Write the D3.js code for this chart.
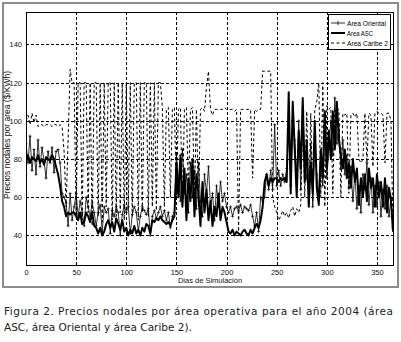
<!DOCTYPE html>
<html>
<head>
<meta charset="utf-8">
<script src="https://cdn.jsdelivr.net/npm/d3@7"></script>
<style>
  body { margin: 0; background: #fff; }
  svg { display: block; }
</style>
</head>
<body>
<svg id="chart" width="401" height="342"></svg>
<script>
// daily values sampled every 2 days (day 0 .. 366)
const days = d3.range(0, 367, 2);

const caribe2 = [
  100,103,98,104,99,103,97,98,98,97,
  98,98,98,97,98,98,97,98,97,84,
  55,90,127,120,120,50,120,120,48,120,
  120,52,120,45,120,120,50,120,47,120,
  55,120,120,48,120,50,120,52,120,48,
  120,55,120,50,120,120,48,120,52,120,
  120,50,120,55,120,53,120,120,107,55,
  106,107,60,106,107,60,106,107,55,106,
  107,62,106,107,60,106,55,106,107,105,
  118,126,106,103,106,106,106,106,106,107,
  106,106,106,106,105,106,42,106,106,106,
  106,106,106,70,106,105,106,106,126,126,
  126,126,126,60,55,52,48,50,53,50,
  52,49,53,55,50,54,52,56,105,60,
  105,55,104,58,106,110,120,60,120,55,
  108,106,107,62,106,105,106,60,104,103,
  104,62,103,104,102,104,80,78,80,104,
  78,104,103,76,104,105,104,104,103,78,
  104,104,100,42
];

const asc = [
  80,82,78,81,80,79,82,78,80,77,
  81,80,79,82,80,76,72,66,58,55,
  50,52,51,52,52,50,48,52,46,47,
  52,50,47,52,45,44,41,44,40,42,
  46,48,44,47,42,49,46,43,48,42,
  44,40,43,41,45,41,43,40,44,42,
  46,45,41,48,47,49,48,50,48,47,
  46,47,45,48,50,78,60,82,55,75,
  48,70,58,80,50,72,62,45,68,52,
  64,48,58,45,55,50,62,48,55,52,
  47,42,41,43,40,42,41,40,42,43,
  41,40,43,41,44,46,44,48,55,68,
  72,66,70,68,70,70,68,70,69,70,
  68,115,62,110,85,60,95,75,112,68,
  90,55,78,62,100,65,56,85,70,105,
  75,95,80,105,85,110,90,82,75,85,
  70,78,65,80,68,75,56,70,60,72,
  58,75,65,70,55,72,60,68,55,70,
  52,65,58,42
];

const oriental = [
  88,78,92,74,85,72,90,76,86,79,
  70,84,78,86,73,84,85,78,62,60,
  57,45,62,48,55,62,50,58,52,45,
  60,55,50,57,52,45,52,56,42,55,
  52,54,41,53,50,55,52,40,51,56,
  52,55,41,51,55,52,42,50,55,53,
  51,54,40,50,53,49,52,55,50,53,
  48,52,44,50,52,82,70,58,85,62,
  72,52,78,60,74,54,78,58,50,72,
  62,76,55,62,48,66,55,68,58,62,
  55,52,55,50,54,55,53,56,52,55,
  54,53,56,50,45,52,42,60,58,60,
  72,64,74,64,98,66,74,66,72,68,
  75,95,66,100,90,70,100,64,105,80,
  70,62,88,55,92,72,60,80,66,95,
  70,85,100,82,112,88,98,75,90,72,
  82,65,76,58,72,54,66,52,72,64,
  78,56,70,52,66,55,68,50,64,54,
  66,50,60,44
];

const xTicks = [0, 50, 100, 150, 200, 250, 300, 350];
const yTicks = [40, 60, 80, 100, 120, 140];
const legendNames = ["Area Oriental", "Area ASC", "Area Caribe 2"];

const svg = d3.select("#chart");
const font = "'Liberation Sans', Arial, sans-serif";

// figure frame
svg.append("rect")
  .attr("x", 3).attr("y", 3).attr("width", 395).attr("height", 284)
  .attr("fill", "#fff").attr("stroke", "#8c8c8c").attr("stroke-width", 2);

const L = 26, R = 394, T = 12, B = 266;
const x = d3.scaleLinear().domain([0, 367]).range([L, R]);
const y = d3.scaleLinear().domain([24, 157]).range([B, T]);

// grid
const grid = svg.append("g").attr("stroke", "#000").attr("stroke-width", 1)
  .attr("stroke-dasharray", "3,2");
grid.selectAll(".gx").data(xTicks.slice(1)).join("line")
  .attr("x1", d => Math.round(x(d)) + 0.5).attr("x2", d => Math.round(x(d)) + 0.5)
  .attr("y1", T).attr("y2", B);
grid.selectAll(".gy").data(yTicks).join("line")
  .attr("y1", d => Math.round(y(d)) + 0.5).attr("y2", d => Math.round(y(d)) + 0.5)
  .attr("x1", L).attr("x2", R);

// series
svg.append("clipPath").attr("id", "clip")
  .append("rect").attr("x", L).attr("y", T).attr("width", R - L).attr("height", B - T);
const plot = svg.append("g").attr("clip-path", "url(#clip)");

const line = d3.line().x((d, i) => x(days[i])).y(d => y(d));

plot.append("path").datum(oriental)
  .attr("fill", "none").attr("stroke", "#000").attr("stroke-width", 0.8)
  .attr("d", line);
plot.append("g").selectAll("path").data(oriental).join("path")
  .attr("d", (d, i) => {
    const cx = x(days[i]), cy = y(d), s = 1.6;
    return `M${cx - s},${cy}H${cx + s}M${cx},${cy - s}V${cy + s}`;
  })
  .attr("stroke", "#000").attr("stroke-width", 0.6);

plot.append("path").datum(asc)
  .attr("fill", "none").attr("stroke", "#000").attr("stroke-width", 2)
  .attr("stroke-linejoin", "round")
  .attr("d", line);

plot.append("path").datum(caribe2)
  .attr("fill", "none").attr("stroke", "#000").attr("stroke-width", 1)
  .attr("stroke-dasharray", "3,2.5")
  .attr("d", line);

// axes box
svg.append("rect")
  .attr("x", L + 0.5).attr("y", T + 0.5).attr("width", R - L - 1).attr("height", B - T - 1)
  .attr("fill", "none").attr("stroke", "#000");

const gx = svg.append("g").attr("transform", `translate(0,${B})`)
  .call(d3.axisBottom(x).tickValues(xTicks).tickSize(0).tickPadding(4));
const gy = svg.append("g").attr("transform", `translate(${L},0)`)
  .call(d3.axisLeft(y).tickValues(yTicks).tickSize(0).tickPadding(4));
[gx, gy].forEach(g => {
  g.select(".domain").remove();
  g.selectAll("text").attr("font-family", font).attr("font-size", 7.5).attr("fill", "#111");
});

svg.append("text")
  .attr("x", (L + R) / 2).attr("y", 283)
  .attr("text-anchor", "middle")
  .attr("font-family", font).attr("font-size", 7.5).attr("fill", "#111")
  .text("Dias de Simulación");

svg.append("text")
  .attr("transform", `translate(10,${(T + B) / 2 - 4}) rotate(-90)`)
  .attr("text-anchor", "middle")
  .attr("font-family", font).attr("font-size", 8.5).attr("fill", "#111")
  .text("Precios nodales por area ($/KWh)");

// legend
const lg = svg.append("g");
lg.append("rect").attr("x", 328.5).attr("y", 14.5).attr("width", 62).attr("height", 35)
  .attr("fill", "#fff").attr("stroke", "#000");
const styles = [
  { w: 0.8, dash: null, mark: true, len: 39 },
  { w: 2, dash: null, mark: false, len: 26 },
  { w: 1, dash: "3,2.5", mark: false, len: 41 }
];
legendNames.forEach((name, i) => {
  const ly = 23 + i * 10;
  lg.append("line").attr("x1", 331).attr("x2", 345).attr("y1", ly).attr("y2", ly)
    .attr("stroke", "#000").attr("stroke-width", styles[i].w)
    .attr("stroke-dasharray", styles[i].dash);
  if (styles[i].mark) {
    lg.append("line").attr("x1", 338).attr("x2", 338).attr("y1", ly - 2).attr("y2", ly + 2)
      .attr("stroke", "#000").attr("stroke-width", 0.8);
  }
  lg.append("text").attr("x", 347).attr("y", ly + 2.5)
    .attr("font-family", font).attr("font-size", 6.5).attr("fill", "#000")
    .attr("textLength", styles[i].len).attr("lengthAdjust", "spacingAndGlyphs")
    .text(name);
});

// caption
const cap = "'DejaVu Sans', Verdana, sans-serif";
svg.append("text").attr("x", 4).attr("y", 315)
  .attr("font-family", cap).attr("font-size", 10.5).attr("fill", "#222")
  .attr("textLength", 389).attr("lengthAdjust", "spacing")
  .text("Figura 2. Precios nodales por área operativa para el año 2004 (área");
svg.append("text").attr("x", 4).attr("y", 331)
  .attr("font-family", cap).attr("font-size", 10.5).attr("fill", "#222")
  .text("ASC, área Oriental y área Caribe 2).");
</script>
</body>
</html>
